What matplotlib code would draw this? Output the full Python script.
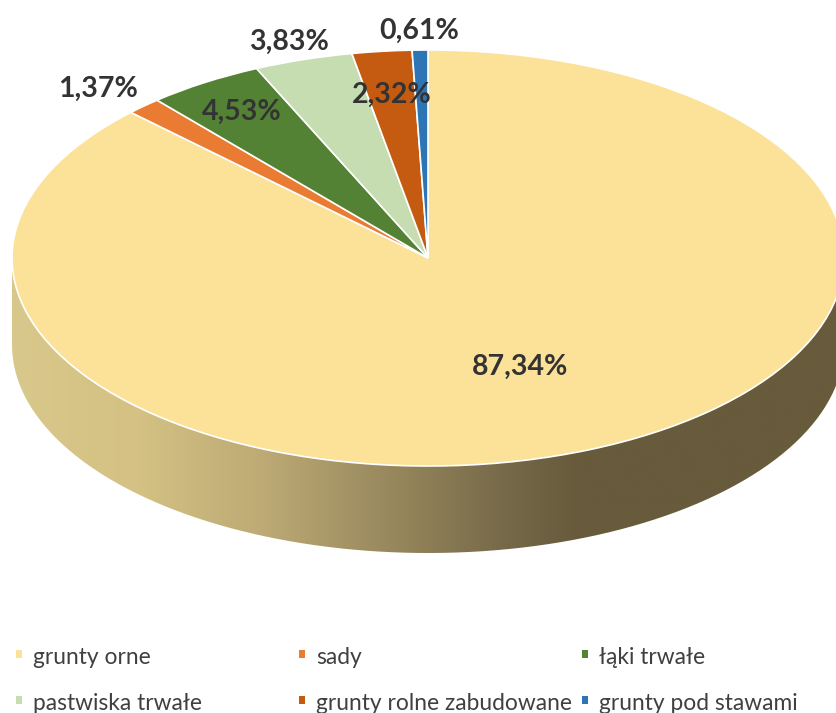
import numpy as np
import matplotlib
matplotlib.use("Agg")
import matplotlib.pyplot as plt
from matplotlib.colors import LinearSegmentedColormap
from matplotlib.patches import PathPatch, Rectangle
from matplotlib.path import Path

categories = ["grunty orne", "sady", "łąki trwałe",
              "pastwiska trwałe", "grunty rolne zabudowane", "grunty pod stawami"]
shares = [87.34, 1.37, 4.53, 3.83, 2.32, 0.61]
colors = ["#FBE298", "#E97B33", "#548235", "#C5DDB0", "#C55A11", "#2E75B6"]

W, H = 837, 713
cx, cy, rx, ry, depth = 428, 258, 416, 208, 87

fig = plt.figure(figsize=(W / 100, H / 100), dpi=100)
ax = fig.add_axes([0, 0, 1, 1])

wedges, _ = ax.pie(shares, colors=colors, startangle=90, counterclock=False,
                   wedgeprops={"edgecolor": "white", "linewidth": 1.2, "zorder": 3})
ax.set_aspect("auto")

# side wall of the disc, shaded left to right
t = np.linspace(np.pi, 2 * np.pi, 200)
d = depth / ry
wall_x = np.r_[np.cos(t), np.cos(t[::-1])]
wall_y = np.r_[np.sin(t), np.sin(t[::-1]) - d]
wall = PathPatch(Path(np.c_[wall_x, wall_y]), transform=ax.transData, fc="none", ec="none")
ax.add_patch(wall)

px_stops = [0.0, 0.15, 0.30, 0.49, 0.60, 0.68, 1.0]
wall_cols = ["#D9C88B", "#D4C183", "#BDAA75", "#8F8058", "#756848", "#675B3C", "#675B3C"]
cmap = LinearSegmentedColormap.from_list("wall", list(zip(px_stops, wall_cols)))
im = ax.imshow(np.linspace(0, 1, 400).reshape(1, -1), cmap=cmap, aspect="auto",
               extent=(-1, 1, -1 - d, 0), zorder=1)
im.set_clip_path(wall)

ax.set_xlim((0 - cx) / rx, (W - cx) / rx)
ax.set_ylim((cy - H) / ry, cy / ry)
ax.axis("off")

# data labels, positions in picture pixels
label_px = [(520, 367), (98, 89), (242, 112), (289, 42), (392, 95), (419, 31)]
for v, (x, y) in zip(shares, label_px):
    fig.text(x / W, 1 - y / H, f"{v:.2f}%".replace(".", ","), fontsize=20.5,
             fontweight="bold", family="Lato", color="#333333", ha="center", va="center")

# legend laid out on a fixed grid like the original
col_x = [19, 302, 585]
row_y = [656, 702]
for i, (name, col) in enumerate(zip(categories, colors)):
    x = col_x[i % 3]
    y = row_y[i // 3]
    fig.add_artist(Rectangle(((x - 3) / W, 1 - (y + 2) / H), 6 / W, 8 / H,
                             transform=fig.transFigure, fc=col, ec="none"))
    fig.text((x + 14) / W, 1 - (y + 2) / H, name, fontsize=16.4, family="Lato",
             color="#404040", ha="left", va="center")

fig.savefig("out.png", dpi=100)
